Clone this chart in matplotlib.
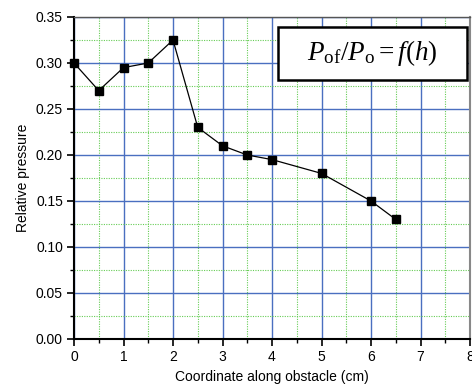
import matplotlib
matplotlib.use("Agg")
import matplotlib.pyplot as plt
from matplotlib.ticker import MultipleLocator
from matplotlib.patches import Rectangle

plt.rcParams['font.family'] = ['Liberation Sans', 'DejaVu Sans']
plt.rcParams['mathtext.fontset'] = 'custom'
plt.rcParams['mathtext.rm'] = 'Liberation Serif'
plt.rcParams['mathtext.it'] = 'Liberation Serif:italic'

# Measured relative pressure along the obstacle
coord_cm = [0, 0.5, 1, 1.5, 2, 2.5, 3, 3.5, 4, 5, 6, 6.5]
rel_pressure = [0.30, 0.27, 0.295, 0.30, 0.325, 0.23, 0.21, 0.20, 0.195, 0.18, 0.15, 0.13]

x_ticks = [0, 1, 2, 3, 4, 5, 6, 7, 8]
y_ticks = [0.00, 0.05, 0.10, 0.15, 0.20, 0.25, 0.30, 0.35]

fig = plt.figure(figsize=(4.72, 3.90), dpi=100)
ax = fig.add_axes([74/472, 51/390, 396/472, 322/390])

ax.plot(coord_cm, rel_pressure, color='black', lw=0.9, marker='s',
        markersize=6, markerfacecolor='black', markeredgecolor='black', zorder=5,
        clip_on=False)

ax.set_xlim(0, 8)
ax.set_ylim(0, 0.35)
ax.set_xticks(x_ticks)
ax.set_yticks(y_ticks)
ax.set_yticklabels([f"{v:.2f}" for v in y_ticks])
ax.xaxis.set_minor_locator(MultipleLocator(0.5))
ax.yaxis.set_minor_locator(MultipleLocator(0.025))

ax.grid(which='major', color='#4a6fc0', lw=1.0, ls='-')
ax.grid(which='minor', color='#66cc55', lw=0.8, ls=(0, (1, 1.2)))
ax.set_axisbelow(True)

ax.tick_params(which='major', direction='out', length=5, width=1.2, labelsize=10,
               colors='black', pad=3)
ax.tick_params(which='minor', direction='out', length=3, width=1.0)

for side in ['left', 'bottom']:
    ax.spines[side].set_linewidth(1.5)
    ax.spines[side].set_color('black')
ax.spines['top'].set_color('#555555')
ax.spines['top'].set_linewidth(1.0)
ax.spines['right'].set_color('#888888')
ax.spines['right'].set_linewidth(1.5)

ax.set_xlabel('Coordinate along obstacle (cm)', fontsize=10, labelpad=4)
ax.set_ylabel('Relative pressure', fontsize=10, labelpad=4)

# Formula label in a framed box
ax.add_patch(Rectangle((0.515, 0.804), 0.477, 0.165, transform=ax.transAxes,
                       facecolor='white', edgecolor='black', lw=1.8, zorder=9))
ax.text(0.754, 0.887, r'$P_{\mathrm{of}}/P_{\mathrm{o}} = f(h)$', transform=ax.transAxes,
        ha='center', va='center', fontsize=19.5, zorder=10)

fig.savefig('out.png', dpi=100)
